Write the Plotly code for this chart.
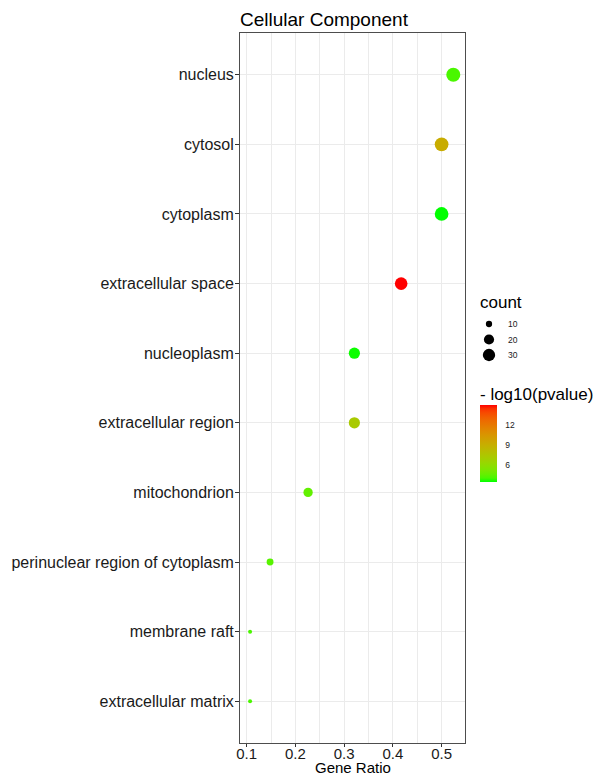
import plotly.graph_objects as go

# GO cellular-component enrichment results
terms = [
    "nucleus",
    "cytosol",
    "cytoplasm",
    "extracellular space",
    "nucleoplasm",
    "extracellular region",
    "mitochondrion",
    "perinuclear region of cytoplasm",
    "membrane raft",
    "extracellular matrix",
]
gene_ratio = [0.524, 0.500, 0.500, 0.417, 0.321, 0.321, 0.226, 0.148, 0.107, 0.107]
counts = [44, 42, 42, 35, 27, 27, 19, 12, 9, 9]
neg_log10_p = [4.0, 9.2, 3.4, 15.1, 3.5, 7.2, 4.5, 4.3, 4.0, 4.0]

size_breaks = [10, 20, 30]
color_ticks = [6, 9, 12]

FONT = "Liberation Sans, Arial, sans-serif"
W, H = 596, 777
L, T, B = 240, 33, 34
PANEL_W = 225


# ---- green -> red gradient interpolated in CIE Lab ----
def _lin(c):
    c /= 255.0
    return c / 12.92 if c <= 0.04045 else ((c + 0.055) / 1.055) ** 2.4


def _gam(c):
    c = 12.92 * c if c <= 0.0031308 else 1.055 * c ** (1 / 2.4) - 0.055
    return max(0, min(255, round(c * 255)))


def rgb_to_lab(rgb):
    r, g, b = (_lin(float(v)) for v in rgb)
    x = (0.4124 * r + 0.3576 * g + 0.1805 * b) / 0.95047
    y = 0.2126 * r + 0.7152 * g + 0.0722 * b
    z = (0.0193 * r + 0.1192 * g + 0.9505 * b) / 1.08883
    f = lambda t: t ** (1 / 3) if t > 0.008856 else 7.787 * t + 16 / 116
    fx, fy, fz = f(x), f(y), f(z)
    return 116 * fy - 16, 500 * (fx - fy), 200 * (fy - fz)


def lab_to_rgb(lab):
    l, a, bb = lab
    fy = (l + 16) / 116
    fx = fy + a / 500
    fz = fy - bb / 200
    inv = lambda t: t ** 3 if t ** 3 > 0.008856 else (t - 16 / 116) / 7.787
    x, y, z = inv(fx) * 0.95047, inv(fy), inv(fz) * 1.08883
    r = 3.2406 * x - 1.5372 * y - 0.4986 * z
    g = -0.9689 * x + 1.8758 * y + 0.0415 * z
    b = 0.0557 * x - 0.2040 * y + 1.0570 * z
    return tuple(_gam(max(0.0, v)) for v in (r, g, b))


lo, hi = rgb_to_lab((0, 255, 0)), rgb_to_lab((255, 0, 0))
n_stops = 21
colorscale = []
for i in range(n_stops):
    t = i / (n_stops - 1)
    lab = tuple(lo[k] + (hi[k] - lo[k]) * t for k in range(3))
    colorscale.append([t, "rgb(%d,%d,%d)" % lab_to_rgb(lab)])


# ---- point size: area-style scaling between min and max count ----
D_MIN, D_MAX = 4.0, 14.0
c_lo, c_hi = min(counts), max(counts)


def diam(c):
    return D_MIN + (D_MAX - D_MIN) * ((c - c_lo) / (c_hi - c_lo)) ** 0.5


fig = go.Figure()

fig.add_trace(
    go.Scatter(
        x=gene_ratio,
        y=terms,
        mode="markers",
        marker=dict(
            size=[diam(c) for c in counts],
            color=neg_log10_p,
            colorscale=colorscale,
            cmin=min(neg_log10_p),
            cmax=max(neg_log10_p),
            line=dict(width=0),
            opacity=1,
            colorbar=dict(
                x=(480 - L) / (W - L),
                xanchor="left",
                y=(H - B - 443.5) / (H - T - B),
                yanchor="middle",
                len=77,
                lenmode="pixels",
                thickness=17,
                thicknessmode="pixels",
                outlinewidth=0,
                tickvals=color_ticks,
                ticks="outside",
                ticklen=7,
                tickcolor="rgba(0,0,0,0)",
                tickfont=dict(family=FONT, size=8.5, color="#1a1a1a"),
                xpad=0,
                ypad=0,
            ),
        ),
        showlegend=False,
        hoverinfo="x+y",
    )
)

# size legend drawn on its own small axis pair (row index 0..2, top to bottom)
leg_rows = list(range(len(size_breaks)))
fig.add_trace(
    go.Scatter(
        x=[9] * len(size_breaks),
        y=leg_rows,
        mode="markers",
        marker=dict(
            size=[diam(s) + 0.6 for s in size_breaks],
            color="#000000",
            opacity=1,
            line=dict(width=0),
        ),
        xaxis="x2",
        yaxis="y2",
        showlegend=False,
        hoverinfo="skip",
    )
)

annotations = [
    dict(
        x=26, y=row, xref="x2", yref="y2", text=str(s), showarrow=False,
        xanchor="left", yanchor="middle", font=dict(family=FONT, size=8.5, color="#1a1a1a"),
    )
    for row, s in zip(leg_rows, size_breaks)
]

leg_px = lambda py: (H - B - py) / (H - T - B)
annotations += [
    dict(
        x=(478 - L) / (W - L), y=leg_px(302), xref="paper", yref="paper", text="count",
        showarrow=False, xanchor="left", yanchor="middle",
        font=dict(family=FONT, size=17, color="black"),
    ),
    dict(
        x=(478 - L) / (W - L), y=leg_px(394), xref="paper", yref="paper", text="- log10(pvalue)",
        showarrow=False, xanchor="left", yanchor="middle",
        font=dict(family=FONT, size=17, color="black"),
    ),
    dict(
        x=PANEL_W / 2 / (W - L), y=leg_px(777), xref="paper", yref="paper", text="Gene Ratio",
        showarrow=False, xanchor="center", yanchor="bottom", borderpad=0,
        font=dict(family=FONT, size=15, color="black"),
    ),
]

grid = "#EBEBEB"
border = "#4d4d4d"

fig.update_layout(
    width=W,
    height=H,
    margin=dict(l=L, r=0, t=T, b=B, pad=0),
    paper_bgcolor="white",
    plot_bgcolor="white",
    title=dict(
        text="Cellular Component",
        x=L / W,
        xanchor="left",
        y=1 - 19 / H,
        yanchor="middle",
        font=dict(family=FONT, size=19, color="black"),
    ),
    xaxis=dict(
        domain=[0, PANEL_W / (W - L)],
        range=[0.0863, 0.548],
        tick0=0.1,
        dtick=0.1,
        tickformat=".1f",
        showgrid=True,
        gridcolor=grid,
        gridwidth=1.1,
        minor=dict(dtick=0.05, tick0=0.05, showgrid=True, gridcolor=grid, gridwidth=0.6),
        zeroline=False,
        showline=True,
        mirror=True,
        linecolor=border,
        linewidth=1,
        ticks="outside",
        ticklen=3,
        tickcolor="#333333",
        ticklabelstandoff=-6,
        tickfont=dict(family=FONT, size=15, color="#1a1a1a"),
    ),
    yaxis=dict(
        type="category",
        categoryorder="array",
        categoryarray=terms[::-1],
        range=[-0.6, len(terms) - 0.4],
        showgrid=True,
        gridcolor=grid,
        gridwidth=1.1,
        zeroline=False,
        showline=True,
        mirror=True,
        linecolor=border,
        linewidth=1,
        ticks="outside",
        ticklen=4,
        tickcolor="#333333",
        ticklabelstandoff=-2,
        tickfont=dict(family=FONT, size=16, color="#1a1a1a"),
    ),
    xaxis2=dict(
        domain=[(480 - L) / (W - L), (540 - L) / (W - L)],
        range=[0, 60],
        visible=False,
        anchor="y2",
        fixedrange=True,
    ),
    yaxis2=dict(
        domain=[leg_px(362.75), leg_px(316.25)],
        range=[len(size_breaks) - 0.5, -0.5],
        visible=False,
        anchor="x2",
        fixedrange=True,
    ),
    annotations=annotations,
)

fig.write_html("out.html")
